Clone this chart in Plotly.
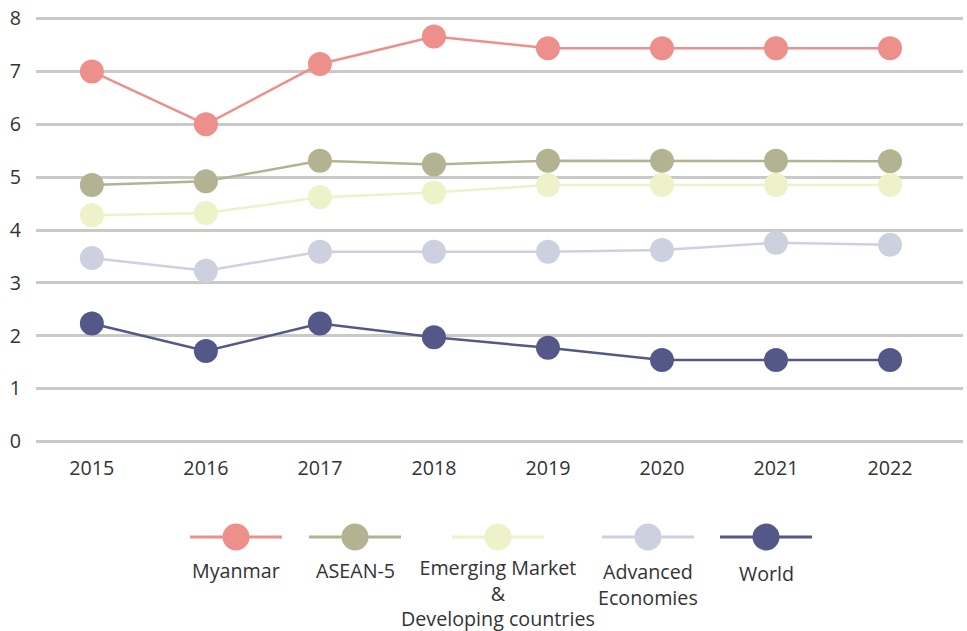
"""Line chart: growth comparison Myanmar vs regions, 2015-2022."""

import plotly.graph_objects as go

years = [2015, 2016, 2017, 2018, 2019, 2020, 2021, 2022]

myanmar = [7.0, 6.0, 7.14, 7.66, 7.44, 7.44, 7.44, 7.44]
asean5 = [4.85, 4.92, 5.31, 5.24, 5.31, 5.31, 5.31, 5.30]
emde = [4.28, 4.32, 4.62, 4.71, 4.85, 4.85, 4.85, 4.85]
advanced = [3.47, 3.23, 3.59, 3.59, 3.59, 3.62, 3.76, 3.72]
world = [2.23, 1.71, 2.23, 1.97, 1.77, 1.54, 1.54, 1.54]

series_names = ["Myanmar", "ASEAN-5", "Emerging Market<br>&<br>Developing countries",
                "Advanced<br>Economies", "World"]
series_values = [myanmar, asean5, emde, advanced, world]
colors = ["#ED8F8A", "#B3B391", "#EDF2C8", "#CDD0DF", "#535889"]

FONT = "Open Sans"
FSIZE = 19.7
TXT = "#333333"
GRID = "#c9c9c9"

fig = go.Figure()
for name, vals, col in zip(series_names, series_values, colors):
    fig.add_trace(go.Scatter(
        x=years, y=vals, mode="lines+markers",
        line=dict(color=col, width=2.5),
        marker=dict(color=col, size=24, opacity=1),
        name=name, showlegend=False, hoverinfo="skip",
    ))

# custom legend drawn in a second (hidden) axis below the plot,
# axis units = screen pixels (x) / pixels from the bottom (y)
leg_x = [236, 355, 498, 648, 766]
leg_text_y = [61, 61, 38, 47, 58]
for name, col, cx, ty in zip(series_names, colors, leg_x, leg_text_y):
    fig.add_trace(go.Scatter(
        x=[cx - 46, cx + 46], y=[94, 94], mode="lines",
        line=dict(color=col, width=3),
        xaxis="x2", yaxis="y2", showlegend=False, hoverinfo="skip",
    ))
    fig.add_trace(go.Scatter(
        x=[cx], y=[94], mode="markers",
        marker=dict(color=col, size=27, opacity=1),
        xaxis="x2", yaxis="y2", showlegend=False, hoverinfo="skip",
    ))
    fig.add_annotation(
        x=cx, y=ty, xref="x2", yref="y2", text=name, showarrow=False,
        font=dict(family=FONT, size=FSIZE, color=TXT), align="center",
    )

fig.update_layout(
    template="none",
    width=967, height=631,
    margin=dict(l=36, r=4, t=17, b=0),
    paper_bgcolor="white", plot_bgcolor="white",
    font=dict(family=FONT, size=FSIZE, color=TXT),
    xaxis=dict(
        domain=[0, 1], range=[2014.51, 2022.64], automargin=False,
        tickmode="array", tickvals=years, ticktext=[str(y) for y in years],
        showgrid=False, zeroline=False, showline=False,
        ticks="outside", ticklen=7, tickcolor="rgba(0,0,0,0)",
        tickfont=dict(family=FONT, size=FSIZE, color=TXT),
    ),
    yaxis=dict(
        domain=[0.3062, 1], range=[-0.03, 8.03], automargin=False,
        tickvals=[0, 1, 2, 3, 4, 5, 6, 7, 8],
        showgrid=True, gridcolor=GRID, gridwidth=3,
        zeroline=False, showline=False,
        ticks="outside", ticklen=10, tickcolor="rgba(0,0,0,0)",
        tickfont=dict(family=FONT, size=FSIZE, color=TXT),
    ),
    xaxis2=dict(domain=[0, 1], range=[36, 963], visible=False,
                anchor="y2", automargin=False),
    yaxis2=dict(domain=[0, 0.25], range=[0, 153.5], visible=False,
                anchor="x2", automargin=False),
)

# drop the default 8px page margin so the figure fills the window
fig.write_html("out.html", config={"displayModeBar": False},
               post_script="document.body.style.margin='0';")
